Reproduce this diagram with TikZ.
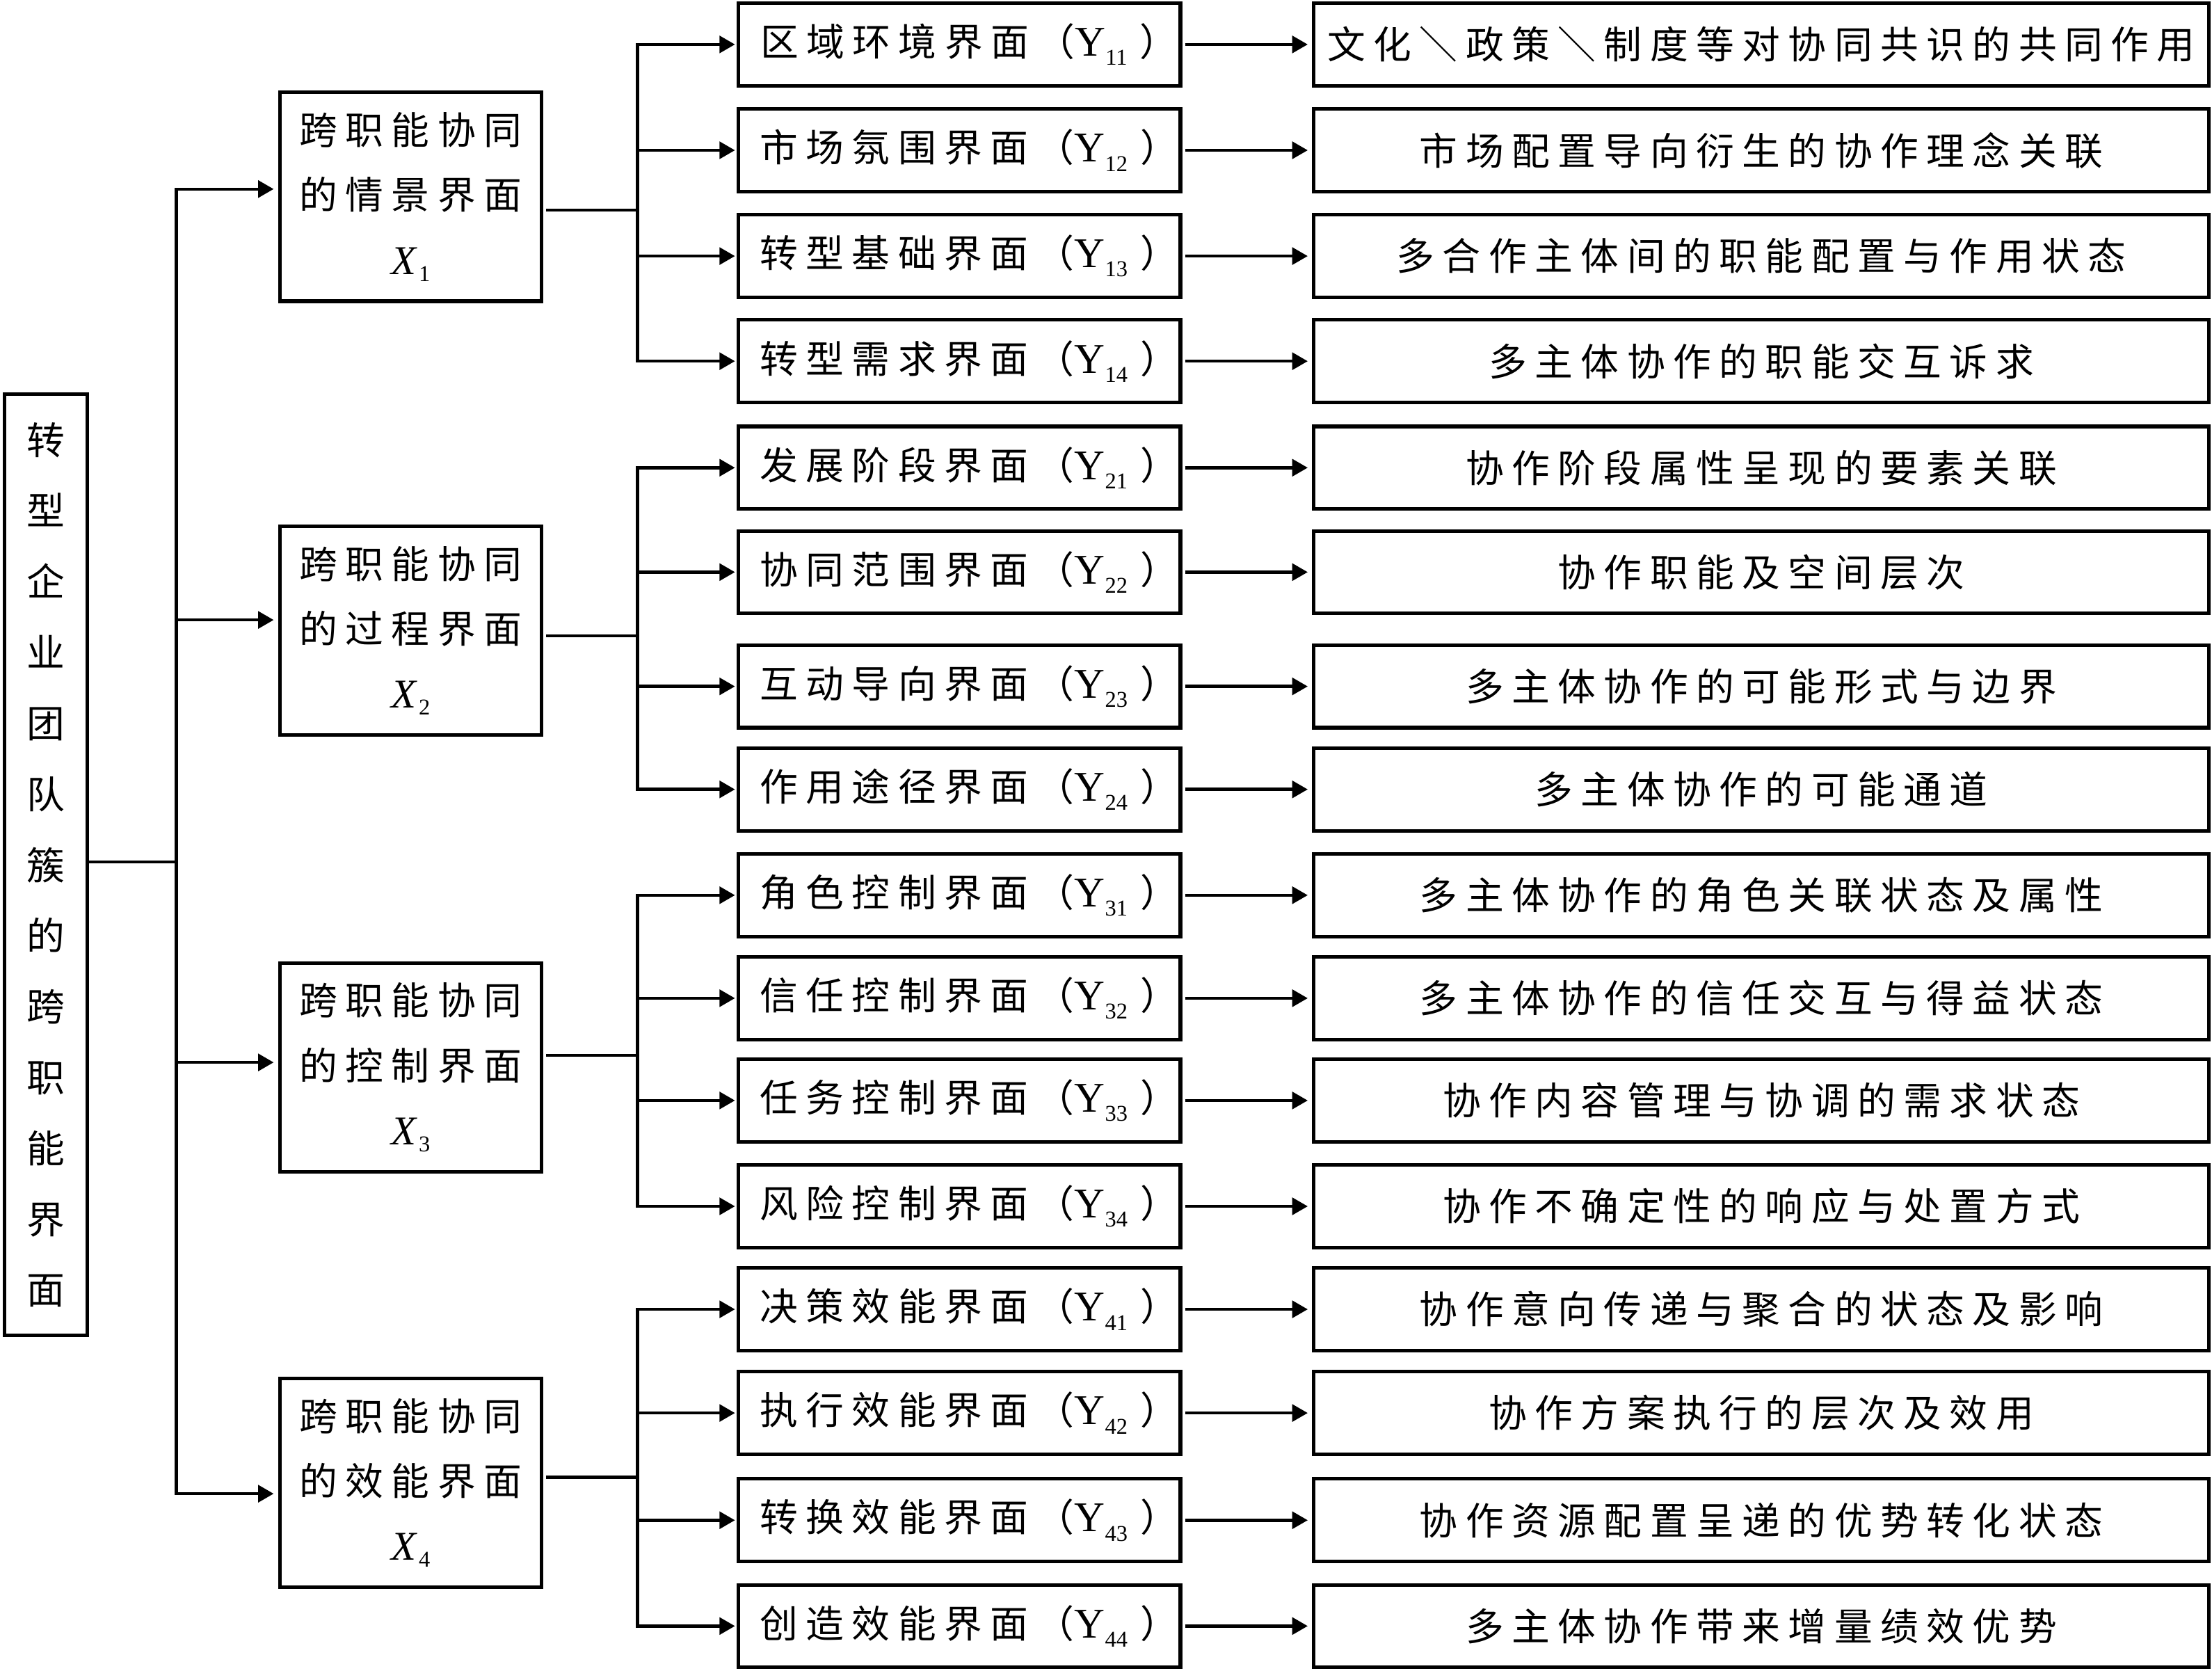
\documentclass[tikz,border=0pt]{standalone}
\usepackage{fontspec}
\setmainfont{Liberation Serif}
\newfontfamily\cjk{Noto Sans CJK SC}[LetterSpace=21]
\newfontfamily\cjkp{Noto Sans CJK SC}
\usetikzlibrary{arrows.meta}
\newcommand{\ysub}[1]{\raisebox{-6.5pt}{\fontsize{16}{16}\selectfont #1}}
\newcommand{\xsub}[1]{\kern2pt\raisebox{-5pt}{\fontsize{16}{16}\selectfont\upshape #1}}
\newcommand{\ylab}[2]{\kern14pt{\cjk #1（}{\fontsize{30}{30}\selectfont Y}\ysub{#2}\kern9pt{\cjk ）}}
\newcommand{\xlab}[3]{{\cjk #1}\\{\cjk #2}\\{\fontsize{29}{29}\selectfont\itshape X}\xsub{#3}}
\begin{document}
\begin{tikzpicture}[x=1pt,y=-1pt,
  font=\fontsize{27}{46}\selectfont,
  box/.style={draw, line width=2.5pt, inner sep=0pt},
  ybox/.style={box, minimum width=313.5pt, minimum height=58.5pt},
  dbox/.style={box, minimum width=634.5pt, minimum height=58.5pt},
  xbox/.style={box, minimum width=185.5pt, minimum height=148pt, align=center},
  conn/.style={line width=2.2pt, line cap=rect},
  arr/.style={line width=2.2pt, -{Triangle[length=11pt,width=12pt]}}]
\useasboundingbox (0,0) rectangle (1568,1184);

% left box
\node[box, minimum width=58.5pt, minimum height=667pt, align=center,
      font=\cjkp\fontsize{27}{50.2}\selectfont] (L) at (32.5,613)
  {转\\型\\企\\业\\团\\队\\簇\\的\\跨\\职\\能\\界\\面};

% X boxes
\node[xbox] (x1) at (291,139.5) {\xlab{跨职能协同}{的情景界面}{1}};
\node[xbox] (x2) at (291,447)   {\xlab{跨职能协同}{的过程界面}{2}};
\node[xbox] (x3) at (291,756.5) {\xlab{跨职能协同}{的控制界面}{3}};
\node[xbox] (x4) at (291,1051)  {\xlab{跨职能协同}{的效能界面}{4}};

% Y and description boxes
\foreach \i/\y/\a/\b in {
  11/31.5/区域环境界面/文化＼政策＼制度等对协同共识的共同作用,
  12/106.5/市场氛围界面/市场配置导向衍生的协作理念关联,
  13/181.5/转型基础界面/多合作主体间的职能配置与作用状态,
  14/256/转型需求界面/多主体协作的职能交互诉求,
  21/331.5/发展阶段界面/协作阶段属性呈现的要素关联,
  22/405.5/协同范围界面/协作职能及空间层次,
  23/486.5/互动导向界面/多主体协作的可能形式与边界,
  24/559.5/作用途径界面/多主体协作的可能通道,
  31/634.5/角色控制界面/多主体协作的角色关联状态及属性,
  32/707.5/信任控制界面/多主体协作的信任交互与得益状态,
  33/780/任务控制界面/协作内容管理与协调的需求状态,
  34/855/风险控制界面/协作不确定性的响应与处置方式,
  41/928/决策效能界面/协作意向传递与聚合的状态及影响,
  42/1001.5/执行效能界面/协作方案执行的层次及效用,
  43/1077.5/转换效能界面/协作资源配置呈递的优势转化状态,
  44/1152.5/创造效能界面/多主体协作带来增量绩效优势}{
  \node[ybox] (y\i) at (680,\y) {\ylab{\a}{\i}};
  \node[dbox] (d\i) at (1248.5,\y) {\cjk \b};
  \coordinate (v\i) at (452,\y);
  \draw[arr, shorten >=1pt] (v\i) -- (y\i.west);
  \draw[arr, shorten <=2pt, shorten >=3pt] (y\i.east) -- (d\i.west);
}

% group branches
\coordinate (o1) at (452,149);
\coordinate (o2) at (452,450.7);
\coordinate (o3) at (452,748);
\coordinate (o4) at (452,1047);
\foreach \g in {1,2,3,4}{
  \draw[conn] (v\g1) -- (v\g4);
  \draw[conn, shorten <=3pt] (x\g.east |- o\g) -- (o\g);
}

% trunk
\coordinate (tm) at (125,611);
\coordinate (a1) at (125,134);
\coordinate (a2) at (125,439.4);
\coordinate (a3) at (125,753);
\coordinate (a4) at (125,1058.7);
\draw[conn] (L.east |- tm) -- (tm);
\draw[conn] (a1) -- (a4);
\foreach \g in {1,2,3,4}{
  \draw[arr, shorten >=3pt] (a\g) -- (x\g.west |- a\g);
}
\end{tikzpicture}
\end{document}
